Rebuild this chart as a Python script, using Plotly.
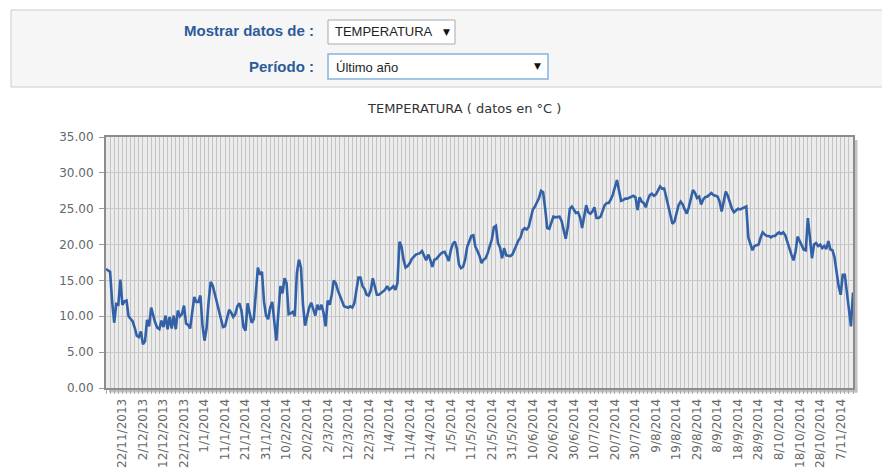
import plotly.graph_objects as go
import pandas as pd

# ---------------- data ----------------
start_date = "2013-11-14"
temperatura = [
    16.6, 16.4, 16.2, 12.0, 9.1, 11.7, 11.6, 15.1, 11.6, 12.1,      # 0
    12.2, 10.0, 9.6, 9.3, 8.4, 7.3, 7.1, 7.9, 6.1, 6.5,             # 10
    9.5, 8.6, 11.2, 10.1, 9.1, 8.4, 8.2, 9.4, 8.5, 10.1,            # 20
    8.2, 9.9, 8.3, 10.1, 8.2, 10.8, 10.0, 10.3, 11.5, 9.0,          # 30
    8.8, 8.3, 10.5, 12.7, 12.0, 12.0, 12.9, 8.8, 6.6, 8.3,          # 40
    12.0, 14.8, 14.3, 13.3, 12.0, 10.8, 9.6, 8.5, 8.6, 9.8,         # 50
    10.9, 10.5, 9.9, 10.3, 11.4, 11.8, 10.8, 8.5, 8.0, 11.8,        # 60
    10.3, 9.1, 9.6, 13.6, 16.8, 15.8, 16.2, 12.0, 10.1, 9.6,        # 70
    11.2, 12.0, 9.6, 6.6, 10.5, 14.2, 13.2, 15.3, 14.6, 10.3,       # 80
    10.4, 10.6, 10.0, 16.0, 17.9, 16.8, 11.6, 8.7, 10.0, 11.2,      # 90
    11.9, 11.0, 10.1, 11.6, 10.9, 11.6, 10.5, 8.6, 12.2, 11.6,      # 100
    13.0, 15.0, 14.6, 13.6, 12.8, 12.0, 11.4, 11.3, 11.2, 11.4,     # 110
    11.2, 11.8, 13.6, 15.4, 15.4, 14.2, 13.8, 13.0, 12.9, 13.6,     # 120
    15.3, 14.2, 13.0, 13.0, 13.2, 13.5, 13.7, 14.2, 13.7, 13.9,     # 130
    14.2, 13.7, 14.6, 20.4, 19.7, 17.9, 16.8, 17.0, 17.4, 18.0,     # 140
    18.3, 18.6, 18.7, 18.8, 19.1, 18.3, 17.8, 18.6, 17.9, 16.9,     # 150
    17.9, 18.0, 18.4, 18.7, 18.9, 19.0, 18.4, 17.7, 19.2, 20.1,     # 160
    20.4, 19.4, 17.2, 16.7, 16.9, 17.9, 19.7, 20.6, 21.2, 21.3,     # 170
    19.7, 19.1, 18.4, 17.4, 17.9, 18.1, 18.8, 19.8, 20.7, 22.4,     # 180
    22.6, 20.2, 19.6, 18.1, 19.5, 18.5, 18.4, 18.4, 18.6, 19.3,     # 190
    20.1, 20.6, 21.0, 22.0, 22.3, 22.1, 22.5, 23.9, 24.9, 25.3,     # 200
    25.8, 26.5, 27.5, 27.3, 25.0, 22.3, 22.2, 23.2, 23.9, 23.8,     # 210
    23.8, 23.9, 23.3, 21.8, 20.8, 22.4, 25.0, 25.3, 24.9, 24.4,     # 220
    24.5, 23.8, 22.3, 24.2, 25.5, 24.5, 24.3, 24.6, 25.2, 23.7,     # 230
    23.7, 23.9, 24.8, 25.5, 25.8, 25.8, 26.3, 27.0, 28.0, 29.0,     # 240
    27.5, 26.1, 26.2, 26.4, 26.4, 26.5, 26.7, 26.8, 26.6, 24.8,     # 250
    26.6, 26.0, 25.8, 25.2, 26.2, 26.9, 27.1, 26.8, 27.0, 27.6,     # 260
    28.1, 27.8, 27.8, 26.6, 25.4, 24.3, 22.9, 23.2, 24.3, 25.5,     # 270
    26.0, 25.6, 24.9, 24.3, 25.2, 26.6, 27.6, 27.2, 26.5, 26.7,     # 280
    25.6, 26.3, 26.6, 26.7, 26.9, 27.2, 26.9, 26.8, 26.7, 26.0,     # 290
    24.6, 26.0, 27.4, 26.8, 25.9, 25.0, 24.5, 24.8, 25.0, 24.9,     # 300
    25.0, 25.1, 25.3, 21.0, 20.0, 19.2, 19.8, 19.9, 20.0, 21.0,     # 310
    21.7, 21.4, 21.2, 21.2, 21.0, 21.2, 21.2, 21.5, 21.7, 21.5,     # 320
    21.7, 21.3, 20.3, 19.5, 18.6, 17.8, 19.0, 21.1, 20.5, 19.8,     # 330
    19.3, 19.2, 23.7, 21.0, 18.1, 20.0, 20.2, 19.8, 20.0, 19.5,     # 340
    19.8, 19.4, 20.5, 19.3, 19.2, 18.2, 16.0, 14.2, 13.0, 15.8,     # 350
    15.8, 13.5, 11.6, 8.6, 13.3,                                    # 360
]
tick_dates = pd.date_range("2013-11-22", "2014-11-07", freq="10D")
tick_labels = [f"{d.day}/{d.month}/{d.year}" for d in tick_dates]
y_ticks = [0, 5, 10, 15, 20, 25, 30, 35]
y_labels = [f"{v:.2f}" for v in y_ticks]
chart_title = "TEMPERATURA ( datos en °C )"
label_datos = "Mostrar datos de :"
label_periodo = "Período :"
select_datos = "TEMPERATURA"
select_periodo = "Último año"

dates = pd.date_range(start_date, periods=len(temperatura), freq="D")

# ---------------- layout helpers ----------------
# the page body adds an 8px margin, so the figure is drawn 8px in from the window edge
OFF = 8
W, H = 890 - OFF, 471 - OFF
L, R, T, B = 106, 853, 137, 388   # plot area in window pixels


def px(x):
    return (x - L) / (R - L)


def py(y):
    return (B - y) / (B - T)


fig = go.Figure()
fig.add_trace(go.Scatter(
    x=dates, y=temperatura, mode="lines",
    line=dict(color="#3361a8", width=2.6),
    hoverinfo="x+y", showlegend=False,
))

shapes = [
    # header panel
    dict(type="rect", xref="paper", yref="paper", x0=px(11), x1=px(900), y0=py(87), y1=py(10),
         fillcolor="#f6f6f6", line=dict(color="#cccccc", width=1), layer="below"),
    dict(type="rect", xref="paper", yref="paper", x0=px(328), x1=px(455), y0=py(44), y1=py(20),
         fillcolor="#ffffff", line=dict(color="#a8a8a8", width=1), layer="below"),
    dict(type="rect", xref="paper", yref="paper", x0=px(328), x1=px(548), y0=py(79), y1=py(54),
         fillcolor="#ffffff", line=dict(color="#86b3e3", width=1.5), layer="below"),
    # plot shadow
    dict(type="rect", xref="paper", yref="paper", x0=px(853), x1=px(857.5), y0=py(392.5), y1=py(140),
         fillcolor="#c2c2c2", line=dict(width=0), layer="below"),
    dict(type="rect", xref="paper", yref="paper", x0=px(109), x1=px(857.5), y0=py(392.5), y1=py(388),
         fillcolor="#c2c2c2", line=dict(width=0), layer="below"),
]

lab_font = dict(family="Liberation Sans", size=15, color="#2d5b9a", weight="bold")
sel_font = dict(family="Liberation Sans", size=13, color="#222222")
annotations = [
    dict(text=label_datos, x=px(316), y=py(31), xanchor="right", yanchor="middle", font=lab_font),
    dict(text=label_periodo, x=px(316), y=py(66), xanchor="right", yanchor="middle", font=lab_font),
    dict(text=select_datos, x=px(333), y=py(32), xanchor="left", yanchor="middle", font=sel_font),
    dict(text="▼", x=px(446), y=py(32), xanchor="center", yanchor="middle",
         font=dict(family="DejaVu Sans", size=9, color="#111")),
    dict(text=select_periodo, x=px(334), y=py(67), xanchor="left", yanchor="middle", font=sel_font),
    dict(text="▼", x=px(537), y=py(66), xanchor="center", yanchor="middle",
         font=dict(family="DejaVu Sans", size=9, color="#111")),
    dict(text=chart_title, x=px(464), y=py(108), xanchor="center", yanchor="middle",
         font=dict(family="DejaVu Sans", size=13, color="#333333")),
]
for a in annotations:
    a.update(xref="paper", yref="paper", showarrow=False)

fig.update_layout(
    width=W, height=H,
    margin=dict(l=L - OFF, r=W - (R - OFF), t=T - OFF, b=H - (B - OFF), pad=0),
    paper_bgcolor="#ffffff",
    plot_bgcolor="#ececec",
    shapes=shapes,
    annotations=annotations,
    showlegend=False,
    xaxis=dict(
        type="date",
        range=[dates[0], dates[-1]],
        tickmode="array", tickvals=tick_dates, ticktext=tick_labels,
        tickangle=-90,
        tickfont=dict(family="DejaVu Sans", size=12, color="#666666"),
        showgrid=False,
        ticks="outside", ticklen=4, tickcolor="#aaaaaa",
        minor=dict(tickmode="linear", tick0=start_date, dtick=2 * 86400000,
                   showgrid=True, gridcolor="#c4c4c4", gridwidth=1,
                   ticks="outside", ticklen=4, tickcolor="#aaaaaa"),
        showline=True, mirror=True, linecolor="#8c8c8c", linewidth=2,
        zeroline=False, fixedrange=True, automargin=False,
    ),
    yaxis=dict(
        range=[0, 35],
        tickmode="array", tickvals=y_ticks, ticktext=y_labels,
        tickfont=dict(family="DejaVu Sans", size=12, color="#666666"),
        showgrid=True, gridcolor="#c8c8c8", gridwidth=1,
        ticks="outside", ticklen=5, tickcolor="#999999",
        ticklabelstandoff=3,
        showline=True, mirror=True, linecolor="#8c8c8c", linewidth=2,
        zeroline=False, fixedrange=True, automargin=False,
    ),
)

fig.write_html("out.html")
